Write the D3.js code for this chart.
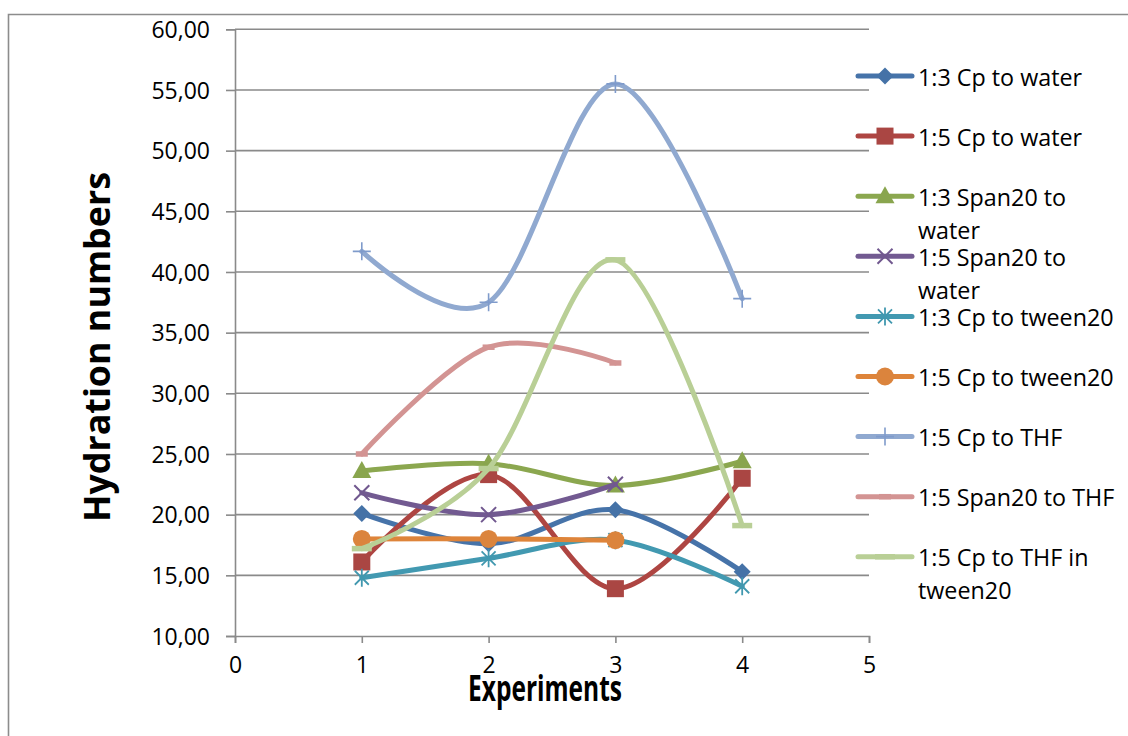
<!DOCTYPE html>
<html>
<head>
<meta charset="utf-8">
<script src="https://cdn.jsdelivr.net/npm/d3@7/dist/d3.min.js"></script>
<style>
  html, body { margin: 0; padding: 0; background: #fff; }
  svg { display: block; }
  text { font-family: "Open Sans", "Liberation Sans", sans-serif; fill: #000; }
</style>
</head>
<body>
<svg id="chart" width="1128" height="736"></svg>
<script>
// Experiment numbers on the x axis
const experiments = [1, 2, 3, 4];

// Series names, in legend order
const seriesNames = [
  "1:3 Cp to water",
  "1:5 Cp to water",
  "1:3 Span20 to water",
  "1:5 Span20 to water",
  "1:3 Cp to tween20",
  "1:5 Cp to tween20",
  "1:5 Cp to THF",
  "1:5 Span20 to THF",
  "1:5 Cp to THF in tween20"
];

// Hydration numbers per series (null = not measured)
const cpWater13       = [20.1, 17.6, 20.4, 15.3];
const cpWater15       = [16.1, 23.3, 13.9, 23.0];
const span20Water13   = [23.6, 24.2, 22.4, 24.4];
const span20Water15   = [21.8, 20.0, 22.5, null];
const cpTween13       = [14.8, 16.4, 17.9, 14.1];
const cpTween15       = [18.0, 18.0, 17.9, null];
const cpTHF15         = [41.7, 37.5, 55.5, 37.8];
const span20THF15     = [25.0, 33.8, 32.5, null];
const cpTHFTween15    = [17.2, 23.8, 41.0, 19.1];

// Axis ticks
const xTicks = [0, 1, 2, 3, 4, 5];
const yTicks = [10, 15, 20, 25, 30, 35, 40, 45, 50, 55, 60];

// Legend text, with line breaks where the legend wraps
const legendLines = [
  ["1:3 Cp to water"],
  ["1:5 Cp to water"],
  ["1:3 Span20 to", "water"],
  ["1:5 Span20 to", "water"],
  ["1:3 Cp to tween20"],
  ["1:5 Cp to tween20"],
  ["1:5 Cp to THF"],
  ["1:5 Span20 to THF"],
  ["1:5 Cp to THF in", "tween20"]
];

const seriesValues = [cpWater13, cpWater15, span20Water13, span20Water15,
  cpTween13, cpTween15, cpTHF15, span20THF15, cpTHFTween15];

const styles = [
  { line: "#4673A9", marker: "diamond",  fill: "#4572A7" },
  { line: "#AE4542", marker: "square",   fill: "#AA4643" },
  { line: "#8BA74F", marker: "triangle", fill: "#89A54E" },
  { line: "#725A91", marker: "x",        fill: "#71588F" },
  { line: "#4299B1", marker: "star",     fill: "#4198AF" },
  { line: "#DE843A", marker: "circle",   fill: "#DB843D" },
  { line: "#90A9D0", marker: "plus",     fill: "#7F9BCB" },
  { line: "#D39493", marker: "dash",     fill: "#D39493" },
  { line: "#B9CF96", marker: "longdash", fill: "#B9CF96" }
];

const svg = d3.select("#chart");
const grid = "#8a8a8a";

// Outer chart frame
svg.append("path")
  .attr("d", "M8.5,736 L8.5,14.5 L1128,14.5")
  .attr("fill", "none")
  .attr("stroke", "#8c8c8c")
  .attr("stroke-width", 1.6);

const x = d3.scaleLinear().domain([0, 5]).range([235, 869]);
const y = d3.scaleLinear().domain([10, 60]).range([636, 29.3]);

// Horizontal gridlines
svg.append("g").selectAll("line")
  .data(yTicks.filter(v => v > 10))
  .join("line")
  .attr("x1", x(0)).attr("x2", x(5))
  .attr("y1", d => y(d)).attr("y2", d => y(d))
  .attr("stroke", grid).attr("stroke-width", 1.6);

// Y axis
const yAxis = svg.append("g")
  .attr("transform", `translate(${x(0)},0)`)
  .call(d3.axisLeft(y).tickValues(yTicks).tickSize(9).tickPadding(16)
    .tickFormat(d => d3.format(".2f")(d).replace(".", ",")));
yAxis.select(".domain").attr("stroke", grid).attr("stroke-width", 1.6);
yAxis.selectAll(".tick line").attr("stroke", grid).attr("stroke-width", 1.6);
yAxis.selectAll(".tick text")
  .attr("font-size", 23).attr("font-family", "Open Sans").attr("fill", "#000")
  .attr("dy", "0.36em");

// X axis
const xAxis = svg.append("g")
  .attr("transform", `translate(0,${y(10)})`)
  .call(d3.axisBottom(x).tickValues(xTicks).tickSize(7).tickPadding(14)
    .tickFormat(d3.format("d")));
xAxis.select(".domain").attr("stroke", grid).attr("stroke-width", 1.6);
xAxis.selectAll(".tick line").attr("stroke", grid).attr("stroke-width", 1.6);
xAxis.selectAll(".tick text")
  .attr("font-size", 23).attr("font-family", "Open Sans").attr("fill", "#000");

// Axis titles
svg.append("text")
  .attr("transform", "translate(110,347) rotate(-90)")
  .attr("text-anchor", "middle")
  .attr("font-weight", "bold")
  .attr("font-size", 35)
  .attr("textLength", 350)
  .attr("lengthAdjust", "spacingAndGlyphs")
  .text("Hydration numbers");

svg.append("text")
  .attr("x", 545).attr("y", 701)
  .attr("text-anchor", "middle")
  .attr("font-weight", "bold")
  .attr("font-size", 36)
  .attr("textLength", 154)
  .attr("lengthAdjust", "spacingAndGlyphs")
  .text("Experiments");

// Marker drawing
function drawMarker(g, type, cx, cy, st) {
  switch (type) {
    case "diamond":
      g.append("path").attr("d", `M${cx},${cy - 8.5}L${cx + 8.5},${cy}L${cx},${cy + 8.5}L${cx - 8.5},${cy}Z`)
        .attr("fill", st.fill); break;
    case "square":
      g.append("rect").attr("x", cx - 8.5).attr("y", cy - 8.5).attr("width", 17).attr("height", 17)
        .attr("fill", st.fill); break;
    case "triangle":
      g.append("path").attr("d", `M${cx},${cy - 10}L${cx + 9.5},${cy + 7}L${cx - 9.5},${cy + 7}Z`)
        .attr("fill", st.fill); break;
    case "x":
      g.append("path").attr("d", `M${cx - 7.5},${cy - 7.5}L${cx + 7.5},${cy + 7.5}M${cx + 7.5},${cy - 7.5}L${cx - 7.5},${cy + 7.5}`)
        .attr("stroke", st.fill).attr("stroke-width", 2); break;
    case "star":
      g.append("path").attr("d", `M${cx - 7},${cy - 7}L${cx + 7},${cy + 7}M${cx + 7},${cy - 7}L${cx - 7},${cy + 7}M${cx},${cy - 9}L${cx},${cy + 9}`)
        .attr("stroke", st.fill).attr("stroke-width", 1.8); break;
    case "circle":
      g.append("circle").attr("cx", cx).attr("cy", cy).attr("r", 9).attr("fill", st.fill); break;
    case "plus":
      g.append("path").attr("d", `M${cx - 9},${cy}L${cx + 9},${cy}M${cx},${cy - 9}L${cx},${cy + 9}`)
        .attr("stroke", st.fill).attr("stroke-width", 1.6); break;
    case "dash":
      g.append("rect").attr("x", cx - 6).attr("y", cy - 2.75).attr("width", 12).attr("height", 5.5)
        .attr("fill", st.fill); break;
    case "longdash":
      g.append("rect").attr("x", cx - 10).attr("y", cy - 2.75).attr("width", 20).attr("height", 5.5)
        .attr("fill", st.fill); break;
  }
}

const line = d3.line()
  .defined(d => d.v !== null)
  .x(d => x(d.e))
  .y(d => y(d.v))
  .curve(d3.curveCardinal.tension(0));

const plot = svg.append("g");
seriesValues.forEach((vals, i) => {
  const pts = experiments.map((e, k) => ({ e, v: vals[k] })).filter(d => d.v !== null);
  const g = plot.append("g");
  g.append("path")
    .attr("d", line(pts))
    .attr("fill", "none")
    .attr("stroke", styles[i].line)
    .attr("stroke-width", 5)
    .attr("stroke-linejoin", "round")
    .attr("stroke-linecap", "round");
  pts.forEach(d => drawMarker(g, styles[i].marker, x(d.e), y(d.v), styles[i]));
});

// Legend
const legend = svg.append("g");
legendLines.forEach((lines, i) => {
  const cy = 76 + i * 60.1;
  const g = legend.append("g");
  g.append("line")
    .attr("x1", 858).attr("x2", 912)
    .attr("y1", cy).attr("y2", cy)
    .attr("stroke", styles[i].line).attr("stroke-width", 5)
    .attr("stroke-linecap", "round");
  drawMarker(g, styles[i].marker, 885, cy, styles[i]);
  lines.forEach((t, j) => {
    g.append("text")
      .attr("x", 918).attr("y", cy + 9.5 + j * 33)
      .attr("font-size", 23.3)
      .text(t);
  });
});
</script>
</body>
</html>
